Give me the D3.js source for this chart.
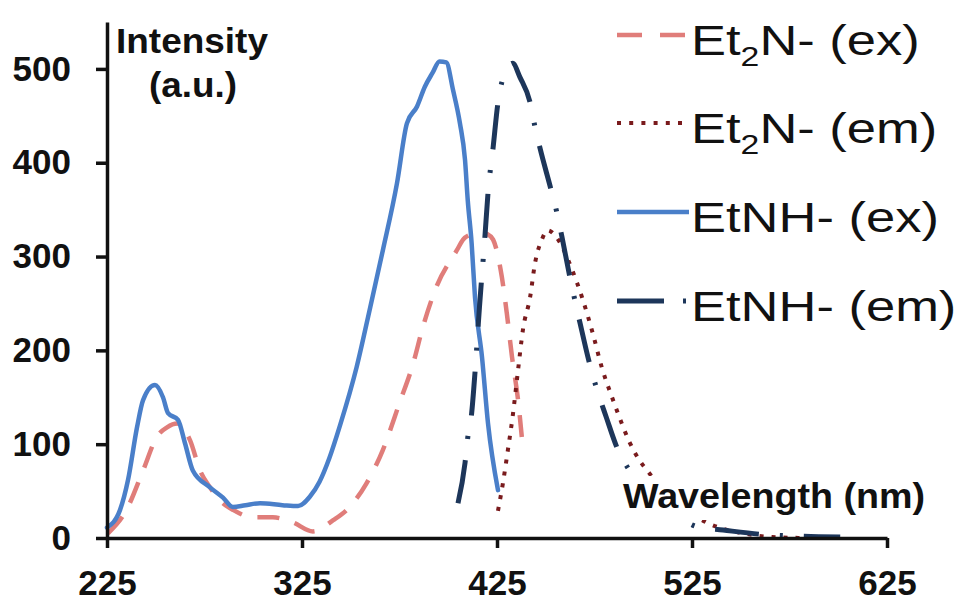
<!DOCTYPE html>
<html>
<head>
<meta charset="utf-8">
<script src="https://cdn.jsdelivr.net/npm/d3@7"></script>
<style>
  body { margin: 0; background: white; }
  svg { display: block; }
  text { font-family: "Liberation Sans", Arial, sans-serif; fill: #111; }
</style>
</head>
<body>
<div id="chart"></div>
<script>
//-- DATA --\\
var xTicks = [225, 325, 425, 525, 625];
var yTicks = [0, 100, 200, 300, 400, 500];

// Et2N- (ex)
var et2nExX = [225.5, 235, 243.5, 250.6, 255.8, 261, 267.6, 272.7, 277.8, 284.5, 289.6, 300, 310, 320, 330.6, 341, 348, 358, 366.5, 375, 382, 387, 394, 404.5, 407.6, 412, 416, 420, 423, 427.5, 430, 432.7, 435.8, 438.3];
var et2nExY = [5, 30, 72, 108, 118, 122, 104, 72, 54, 37, 30, 22, 22, 17, 7, 19, 30, 58, 94, 144, 186, 225, 268, 307, 318, 324, 326, 324, 318, 278, 240, 193, 147, 95];

// Et2N- (em)
var et2nEmX = [425.5, 428, 430.6, 433, 435.8, 438.3, 442, 444.5, 448, 451, 455.7, 463.5, 469, 474, 479, 484, 489, 493, 498, 502, 510, 520, 533, 539, 550, 566, 584];
var et2nEmY = [29, 58, 94, 129, 179, 222, 257, 293, 318, 328, 320, 286, 254, 219, 180, 150, 122, 102, 83, 72, 52, 33, 16, 11, 5.5, 1, 0];

// EtNH- (ex)
var etnhExX = [225, 231.7, 235.8, 240.4, 243.5, 249.6, 253.7, 256.3, 261.4, 265, 269, 277.8, 284.5, 289.6, 296, 303.5, 315, 323, 329, 334, 339, 344.5, 353, 360, 366.5, 373.7, 378.8, 384, 388, 392, 395.5, 399, 402.4, 406, 408.6, 410, 412, 413.7, 417.3, 420.4, 425.5];
var etnhExY = [11, 30, 62, 118, 147, 163, 150, 133, 126, 101, 72, 54, 43, 33, 35, 37, 35, 34, 44, 60, 85, 120, 182, 246, 307, 378, 442, 460, 481, 496, 508, 507, 478, 442, 403, 360, 314, 257, 193, 122, 51];

// EtNH- (em)
var etnhEmX = [405, 408.6, 410, 412, 413.7, 416, 418.8, 420.4, 423, 425.5, 427.5, 430, 433, 436.8, 442, 444.5, 447, 453, 455.8, 458.3, 462.4, 467.6, 472.7, 476, 481, 487, 493, 500, 510, 520, 527.6, 541, 560, 580, 601];
var etnhEmY = [37, 80, 107, 133, 176, 246, 321, 368, 416, 464, 486, 500, 506, 491, 464, 438, 416, 369, 346, 321, 278, 229, 184, 160, 129, 94, 72, 55, 36, 20, 12, 8.5, 4, 2, 1];

var seriesNames = ["Et2N- (ex)", "Et2N- (em)", "EtNH- (ex)", "EtNH- (em)"];

//-- CONSTANTS --\\
var width = 962, height = 601;
var plotLeft = 107, plotRight = 887, plotTop = 22, plotBottom = 538;

var series = [
  {name: seriesNames[0], xs: et2nExX, ys: et2nExY, color: "#e07d7a", w: 4.5, dash: "22,16", legDash: "25,18", cap: "butt"},
  {name: seriesNames[1], xs: et2nEmX, ys: et2nEmY, color: "#7a1b1d", w: 4, dash: "4,8", legDash: "4,8.2", cap: "butt"},
  {name: seriesNames[2], xs: etnhExX, ys: etnhExY, color: "#4a7fc9", w: 4.5, dash: null, legDash: null, cap: "round"},
  {name: seriesNames[3], xs: etnhEmX, ys: etnhEmY, color: "#1d365a", w: 5, dash: "44,21,3,21", legDash: "47,19,3,40", cap: "butt"}
];

var svg = d3.select("#chart").append("svg")
  .attr("width", width)
  .attr("height", height);

var x = d3.scaleLinear().domain([225, 625]).range([plotLeft, plotRight]);
var y = d3.scaleLinear().domain([0, 550]).range([plotBottom, plotTop]);

var line = d3.line()
  .x(function (d) { return x(d[0]); })
  .y(function (d) { return y(d[1]); })
  .curve(d3.curveMonotoneX);

// Curves
series.forEach(function (s) {
  var pts = s.xs.map(function (v, i) { return [v, s.ys[i]]; });
  svg.append("path")
    .attr("d", line(pts))
    .attr("fill", "none")
    .attr("stroke", s.color)
    .attr("stroke-width", s.w)
    .attr("stroke-dasharray", s.dash)
    .attr("stroke-linecap", s.cap)
    .attr("stroke-linejoin", "round");
});

// Axes
var xAxis = svg.append("g")
  .attr("transform", "translate(0," + plotBottom + ")")
  .call(d3.axisBottom(x).tickValues(xTicks).tickSize(10).tickSizeOuter(0).tickPadding(22));
var yAxis = svg.append("g")
  .attr("transform", "translate(" + plotLeft + ",0)")
  .call(d3.axisLeft(y).tickValues(yTicks).tickSize(11).tickSizeOuter(0).tickPadding(25));

[xAxis, yAxis].forEach(function (a) {
  a.select(".domain").attr("stroke", "#111").attr("stroke-width", 3.5);
  a.selectAll(".tick line").attr("stroke", "#111").attr("stroke-width", 3.5);
  a.selectAll(".tick text")
    .style("font-family", "'Liberation Sans', Arial, sans-serif")
    .style("font-size", "35px")
    .style("font-weight", "bold")
    .attr("fill", "#111");
});

// Axis titles
svg.append("text").attr("x", 116).attr("y", 53)
  .attr("textLength", 152).attr("lengthAdjust", "spacingAndGlyphs")
  .style("font-size", "35px").style("font-weight", "bold")
  .text("Intensity");
svg.append("text").attr("x", 149).attr("y", 97)
  .attr("textLength", 88).attr("lengthAdjust", "spacingAndGlyphs")
  .style("font-size", "35px").style("font-weight", "bold")
  .text("(a.u.)");

svg.append("rect").attr("x", 618).attr("y", 476).attr("width", 312).attr("height", 44).attr("fill", "white");
svg.append("text").attr("x", 623).attr("y", 508)
  .attr("textLength", 302).attr("lengthAdjust", "spacingAndGlyphs")
  .style("font-size", "35px").style("font-weight", "bold")
  .text("Wavelength (nm)");

// Legend
var legendY = [35, 123, 212, 301];
series.forEach(function (s, i) {
  var ly = legendY[i];
  svg.append("line")
    .attr("x1", 617).attr("x2", 689)
    .attr("y1", ly).attr("y2", ly)
    .attr("stroke", s.color)
    .attr("stroke-width", s.w)
    .attr("stroke-dasharray", s.legDash);

  var t = svg.append("text")
    .attr("transform", "translate(691," + (ly + 20) + ") scale(1.25,1)")
    .style("font-size", "42px");
  if (s.name.indexOf("Et2N") === 0) {
    t.append("tspan").text("Et");
    t.append("tspan").attr("dy", 11).style("font-size", "27px").text("2");
    t.append("tspan").attr("dy", -11).text(s.name.slice(3));
  } else {
    t.text(s.name);
  }
});
</script>
</body>
</html>
